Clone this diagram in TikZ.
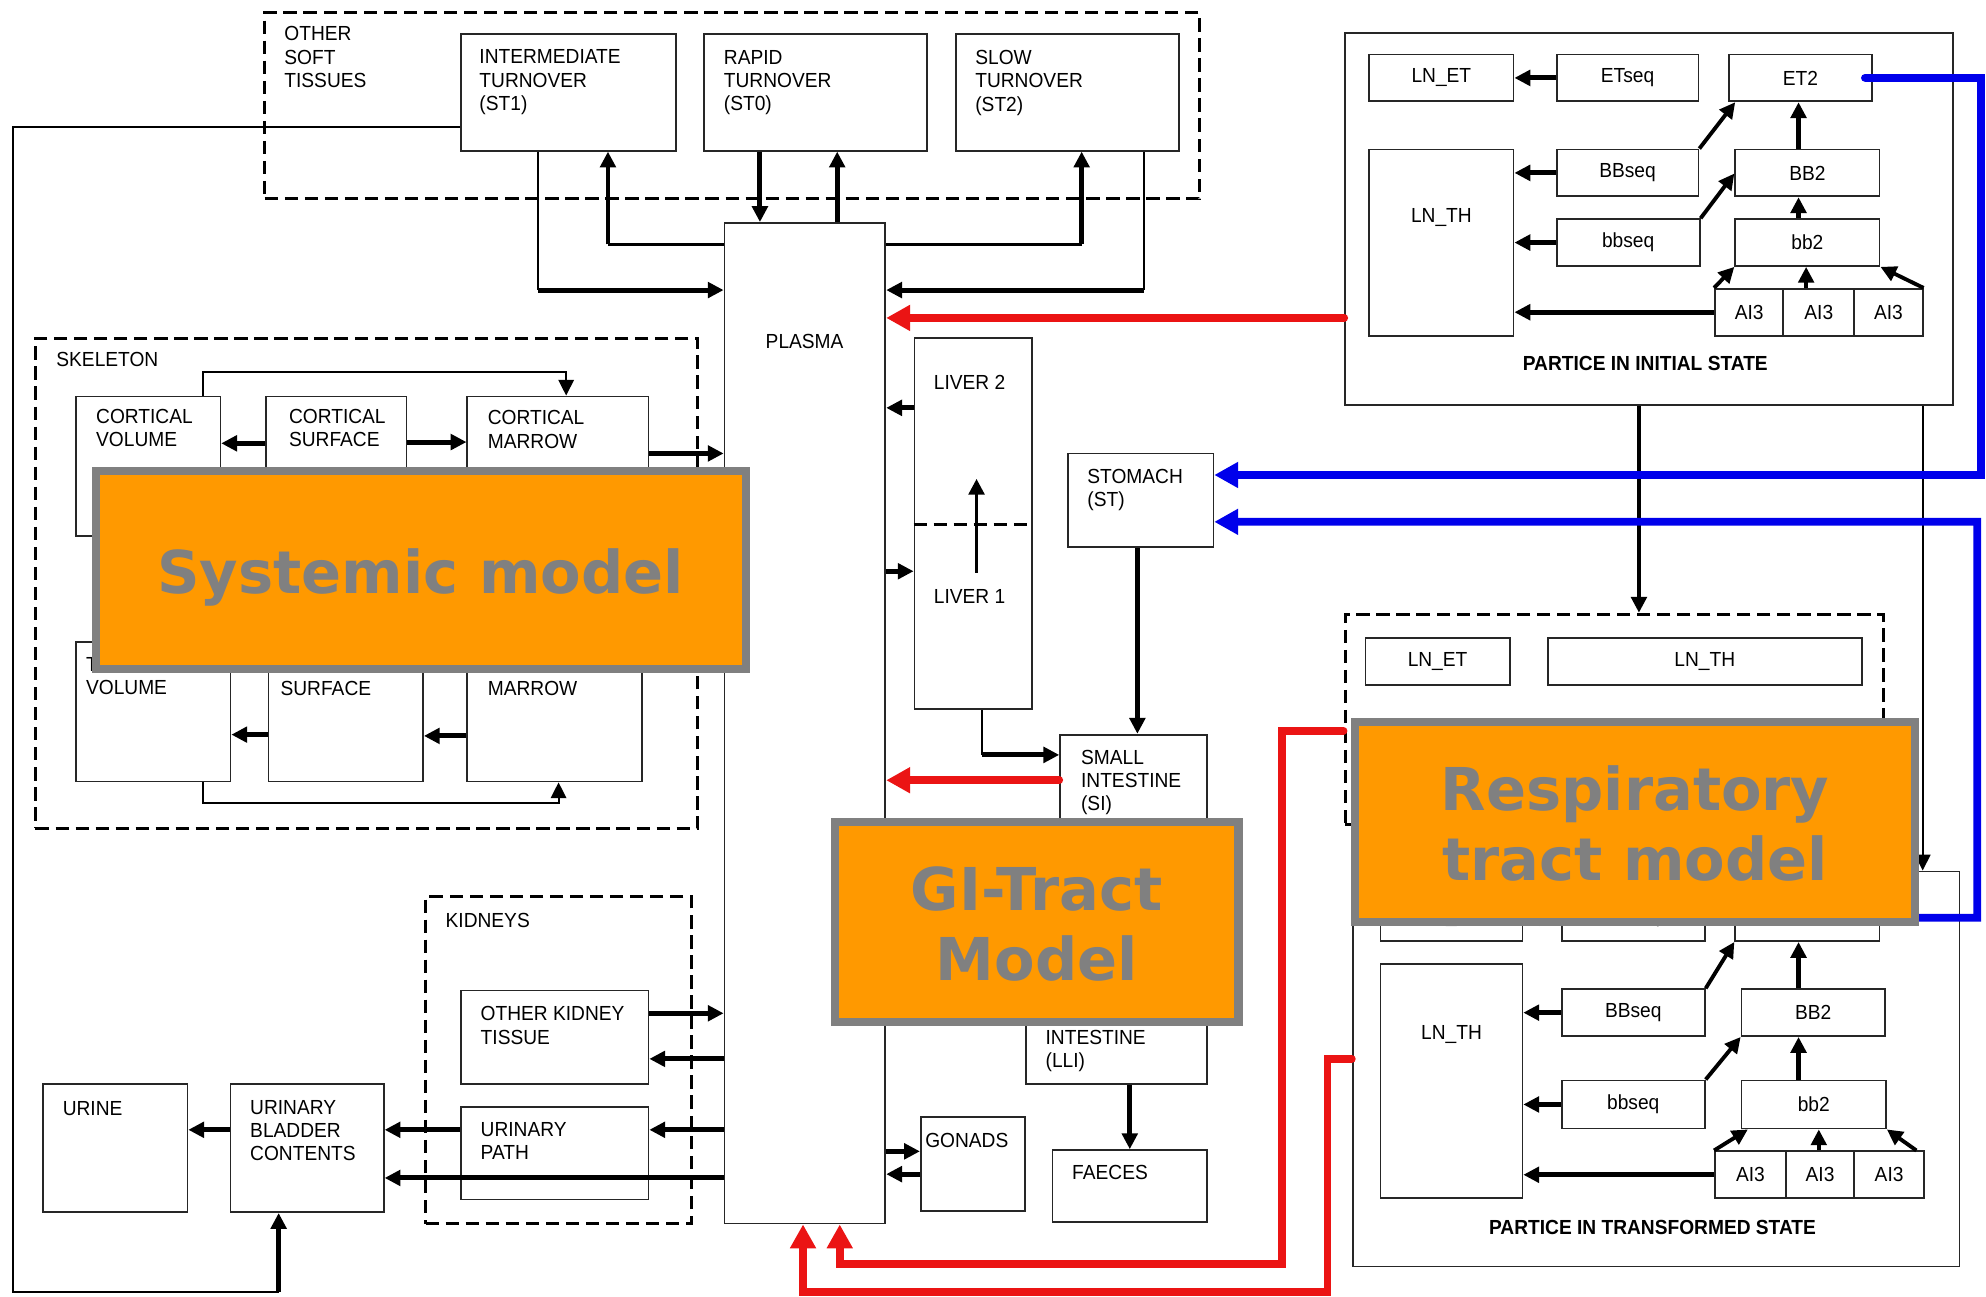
\documentclass[tikz,border=0pt]{standalone}
\usepackage{fontspec}
\setmainfont{Liberation Sans}
\newfontfamily\lblf[FakeStretch=0.94]{Liberation Sans}
\newfontfamily\orgf{DejaVu Sans}
\usetikzlibrary{arrows.meta,fit}
\definecolor{myorange}{RGB}{255,153,0}
\definecolor{mygray}{RGB}{128,128,128}
\definecolor{myred}{RGB}{235,20,20}
\definecolor{myblue}{RGB}{0,0,235}
\begin{document}
\begin{tikzpicture}[x=0.012666cm,y=-0.012666cm,
  box/.style={draw=black!85,line width=0.5pt,inner sep=0pt},
  dbox/.style={draw=black,line width=0.9pt,dash pattern=on 3.8pt off 1.9pt,inner sep=0pt},
  lbl/.style={font=\lblf\fontsize{5.8pt}{6.66pt}\selectfont,inner sep=0pt,anchor=north west,align=left},
  clbl/.style={font=\lblf\fontsize{5.8pt}{6.66pt}\selectfont,inner sep=0pt},
  blbl/.style={font=\lblf\bfseries\fontsize{5.8pt}{6.66pt}\selectfont,inner sep=0pt,anchor=base},
  thn/.style={line width=0.6pt},
  med/.style={line width=1.1pt},
  thk/.style={line width=1.4pt},
  ar/.style={-{Triangle[length=4.5pt,width=4.4pt]}},
  bigar/.style={-{Triangle[length=6.8pt,width=7pt]}},
  redl/.style={draw=myred,line width=2.2pt,line cap=round},
  bluel/.style={draw=myblue,line width=2.2pt,line cap=round},
  orgbox/.style={fill=myorange,draw=mygray,line width=2.3pt,inner sep=0pt},
  orgtxt/.style={font=\orgf\bfseries\fontsize{16.8pt}{19.8pt}\selectfont,text=mygray,align=center,inner sep=0pt}
]
\fill[white] (0,0) rectangle (1568,1024);
\useasboundingbox (0,0) rectangle (1568,1024);

% ---------- other soft tissues ----------
\node[dbox,fit={(209,10) (947,157)}] (ost) {};
\node[box,fit={(364,27) (534,119)}] (st1) {};
\node[box,fit={(556,27) (732,119)}] (st0) {};
\node[box,fit={(755,27) (931,119)}] (st2) {};
\node[lbl] (tost) at (224,20.5) {OTHER\\SOFT\\TISSUES};
\node[lbl] (tst1) at (378,38.7) {INTERMEDIATE\\TURNOVER\\(ST1)};
\node[lbl] (tst0) at (571,38.9) {RAPID\\TURNOVER\\(ST0)};
\node[lbl] (tst2) at (769.5,38.9) {SLOW\\TURNOVER\\(ST2)};

% ---------- plasma ----------
\node[box,fit={(572,176) (699,966)}] (plasma) {};
\node[lbl] (tplasma) at (604,263) {PLASMA};

% ---------- skeleton ----------
\node[dbox,fit={(28,267) (551,654)}] (skel) {};
\node[lbl] (tskel) at (44,277.7) {SKELETON};
\node[box,fit={(60,313) (174,423)}] (cv) {};
\node[box,fit={(210,313) (321,440)}] (cs) {};
\node[box,fit={(369,313) (512,440)}] (cm) {};
\node[box,fit={(60,507) (182,617)}] (tv) {};
\node[box,fit={(212,500) (334,617)}] (ts) {};
\node[box,fit={(369,500) (507,617)}] (tm) {};
\node[lbl] (tcv) at (75.4,322.4) {CORTICAL\\VOLUME};
\node[lbl] (tcs) at (227.7,322.4) {CORTICAL\\SURFACE};
\node[lbl] (tcm) at (384.6,323.7) {CORTICAL\\MARROW};
\node[lbl] (ttv) at (67.4,518) {TRABECULAR\\VOLUME};
\node[lbl] (tts) at (221,537) {SURFACE};
\node[lbl] (ttm) at (384.6,537) {MARROW};

% ---------- liver, GI ----------
\node[box,fit={(722,267) (815,560)}] (liver) {};
\draw[dbox] (liver.west |- 0,414) -- (liver.east |- 0,414);
\node[lbl] (tliv2) at (736.8,296) {LIVER 2};
\node[lbl] (tliv1) at (736.8,465) {LIVER 1};
\node[box,fit={(843,358) (958,432)}] (stomach) {};
\node[lbl] (tstom) at (858,369.7) {STOMACH\\(ST)};
\node[box,fit={(837,580) (953,670)}] (si) {};
\node[lbl] (tsi) at (853,591.4) {SMALL\\INTESTINE\\(SI)};
\node[box,fit={(810,780) (953,856)}] (lli) {};
\node[lbl] (tlli) at (825,812.7) {INTESTINE\\(LLI)};
\node[box,fit={(831,908) (953,965)}] (faeces) {};
\node[lbl] (tfae) at (846,919.8) {FAECES};
\node[box,fit={(727,882) (809,956)}] (gonads) {};
\node[lbl] (tgon) at (730,894.3) {GONADS};

% ---------- kidneys, bladder ----------
\node[dbox,fit={(336,708) (546,966)}] (kid) {};
\node[lbl] (tkid) at (351.3,720.6) {KIDNEYS};
\node[box,fit={(364,782) (512,856)}] (okt) {};
\node[lbl] (tokt) at (379,794) {OTHER KIDNEY\\TISSUE};
\node[box,fit={(364,874) (512,947)}] (up) {};
\node[lbl] (tup) at (379,885.6) {URINARY\\PATH};
\node[box,fit={(182,856) (303,957)}] (ubc) {};
\node[lbl] (tubc) at (197,868) {URINARY\\BLADDER\\CONTENTS};
\node[box,fit={(34,856) (148,957)}] (urine) {};
\node[lbl] (turine) at (49,869) {URINE};

% ---------- respiratory: initial state ----------
\node[box,fit={(1062,26) (1542,320)}] (ris) {};
\node[box,fit={(1081,43) (1195,80)}] (lnet1) {};
\node[box,fit={(1229,43) (1341,80)}] (etseq1) {};
\node[box,fit={(1365,43) (1478,80)}] (et2a) {};
\node[box,fit={(1081,118) (1195,265)}] (lnth1) {};
\node[box,fit={(1229,118) (1341,155)}] (bbseq1) {};
\node[box,fit={(1370,118) (1484,155)}] (bb2a) {};
\node[box,fit={(1229,173) (1342,210)}] (bbsq1) {};
\node[box,fit={(1370,173) (1484,210)}] (bb2b) {};
\node[box,fit={(1354,228) (1408,265)}] (ai3a) {};
\node[box,fit={(1408,228) (1464,265)}] (ai3b) {};
\node[box,fit={(1464,228) (1518,265)}] (ai3c) {};
\node[clbl] (tlnet1) at (lnet1) {LN\_ET};
\node[clbl] (tetseq1) at (etseq1) {ETseq};
\node[clbl] (tet2a) at (et2a) {ET2};
\node[clbl] (tlnth1) at (1138,172) {LN\_TH};
\node[clbl] (tbbseq1) at (bbseq1) {BBseq};
\node[clbl] (tbb2a) at (bb2a) {BB2};
\node[clbl] (tbbsq1) at (bbsq1) {bbseq};
\node[clbl] (tbb2b) at (bb2b) {bb2};
\node[clbl] (tai3a) at (ai3a) {AI3};
\node[clbl] (tai3b) at (ai3b) {AI3};
\node[clbl] (tai3c) at (ai3c) {AI3};
\node[blbl] (tpis) at (1299,292.8) {PARTICE IN INITIAL STATE};

% ---------- respiratory: lymph nodes ----------
\node[dbox,fit={(1062,485) (1487,651)}] (lnd) {};
\node[box,fit={(1078,504) (1192,541)}] (lnet2) {};
\node[box,fit={(1222,504) (1470,541)}] (lnth2) {};
\node[clbl] (tlnet2) at (lnet2) {LN\_ET};
\node[clbl] (tlnth2) at (lnth2) {LN\_TH};

% ---------- respiratory: transformed state ----------
\node[box,fit={(1068,688) (1547,1000)}] (rts) {};
\node[box,fit={(1090,706) (1202,743)}] (lnet3) {};
\node[box,fit={(1233,706) (1346,743)}] (etseq3) {};
\node[box,fit={(1370,706) (1484,743)}] (et2c) {};
\node[box,fit={(1090,761) (1202,946)}] (lnth3) {};
\node[box,fit={(1233,781) (1346,818)}] (bbseq3) {};
\node[box,fit={(1375,781) (1488,818)}] (bb2c) {};
\node[box,fit={(1233,853) (1346,891)}] (bbsq3) {};
\node[box,fit={(1375,853) (1489,891)}] (bb2d) {};
\node[box,fit={(1354,909) (1410,946)}] (ai3d) {};
\node[box,fit={(1410,909) (1464,946)}] (ai3e) {};
\node[box,fit={(1464,909) (1519,946)}] (ai3f) {};
\node[clbl] (tlnet3) at (lnet3) {LN\_ET};
\node[clbl] (tetseq3) at (etseq3) {ETseq};
\node[clbl] (tet2c) at (et2c) {ET2};
\node[clbl] (tlnth3) at (1146,817) {LN\_TH};
\node[clbl] (tbbseq3) at (bbseq3) {BBseq};
\node[clbl] (tbb2c) at (bb2c) {BB2};
\node[clbl] (tbbsq3) at (bbsq3) {bbseq};
\node[clbl] (tbb2d) at (bb2d) {bb2};
\node[clbl] (tai3d) at (ai3d) {AI3};
\node[clbl] (tai3e) at (ai3e) {AI3};
\node[clbl] (tai3f) at (ai3f) {AI3};
\node[blbl] (tpts) at (1304.7,975) {PARTICE IN TRANSFORMED STATE};

% ---------- black connectors ----------
\draw[thn] (st1.south -| 425,0) -- (425,229);
\draw[thk,ar] (425,229) -- (plasma.west |- 0,229);
\draw[thn] (plasma.west |- 0,193) -- (480,193);
\draw[thk,ar] (480,193) -- (st1.south -| 480,0);
\draw[thk,ar] (st0.south -| 600,0) -- (plasma.north -| 600,0);
\draw[thk,ar] (plasma.north -| 661,0) -- (st0.south -| 661,0);
\draw[thn] (plasma.east |- 0,193) -- (854,193);
\draw[thk,ar] (854,193) -- (st2.south -| 854,0);
\draw[thn] (st2.south -| 903,0) -- (903,229);
\draw[thk,ar] (903,229) -- (plasma.east |- 0,229);

\draw[thn] (st1.west |- 0,100) -- (10,100) -- (10,1020) -- (220,1020);
\draw[thk,ar] (220,1020) -- (ubc.south -| 220,0);

\draw[thk,ar] (cs.west |- 0,350) -- (cv.east |- 0,350);
\draw[thk,ar] (cs.east |- 0,349) -- (cm.west |- 0,349);
\draw[thn,ar] (cv.north -| 160,0) -- (160,294) -- (447,294) -- (cm.north -| 447,0);
\draw[thk,ar] (cm.east |- 0,358) -- (plasma.west |- 0,358);
\draw[thk,ar] (ts.west |- 0,580) -- (tv.east |- 0,580);
\draw[thk,ar] (tm.west |- 0,581) -- (ts.east |- 0,581);
\draw[thn,ar] (tv.south -| 160,0) -- (160,634) -- (441,634) -- (tm.south -| 441,0);

\draw[thk,ar] (liver.west |- 0,322) -- (plasma.east |- 0,322);
\draw[thk,ar] (plasma.east |- 0,451) -- (liver.west |- 0,451);
\draw[med,ar] (771,452) -- (771,378);
\draw[thn] (liver.south -| 775,0) -- (775,596);
\draw[thk,ar] (775,596) -- (si.west |- 0,596);
\draw[thk,ar] (stomach.south -| 898,0) -- (si.north -| 898,0);
\draw[thk,ar] (lli.south -| 892,0) -- (faeces.north -| 892,0);
\draw[thk,ar] (plasma.east |- 0,909) -- (gonads.west |- 0,909);
\draw[thk,ar] (gonads.west |- 0,927) -- (plasma.east |- 0,927);

\draw[thk,ar] (okt.east |- 0,800) -- (plasma.west |- 0,800);
\draw[thk,ar] (plasma.west |- 0,836) -- (okt.east |- 0,836);
\draw[thk,ar] (plasma.west |- 0,892) -- (up.east |- 0,892);
\draw[thk,ar] (up.west |- 0,892) -- (ubc.east |- 0,892);
\draw[thk,ar] (plasma.west |- 0,930) -- (ubc.east |- 0,930);
\draw[thk,ar] (ubc.west |- 0,892) -- (urine.east |- 0,892);

\draw[thk,ar] (etseq1.west) -- (lnet1.east);
\draw[thk,ar] (bbseq1.west) -- (lnth1.east |- bbseq1.west);
\draw[thk,ar] (bbsq1.west) -- (lnth1.east |- bbsq1.west);
\draw[thk,ar] (ai3a.west) -- (lnth1.east |- ai3a.west);
\draw[med,ar] (bbseq1.north east) -- (et2a.south -| 1370,0);
\draw[med,ar] (bbsq1.north east) -- (bb2a.west |- 0,137);
\draw[thk,ar] (bb2a.north -| 1420,0) -- (et2a.south -| 1420,0);
\draw[thk,ar] (bb2b.north -| 1420,0) -- (bb2a.south -| 1420,0);
\draw[med,ar] (ai3a.north west) -- (bb2b.south west);
\draw[med,ar] (ai3b.north -| 1426,0) -- (bb2b.south -| 1426,0);
\draw[med,ar] (ai3c.north east) -- (bb2b.south east);

\draw[thk,ar] (etseq3.west) -- (lnet3.east);
\draw[thk,ar] (bbseq3.west) -- (lnth3.east |- bbseq3.west);
\draw[thk,ar] (bbsq3.west) -- (lnth3.east |- bbsq3.west);
\draw[thk,ar] (ai3d.west) -- (lnth3.east |- ai3d.west);
\draw[med,ar] (bbseq3.north east) -- (et2c.south west);
\draw[med,ar] (bbsq3.north east) -- (bb2c.south west);
\draw[thk,ar] (bb2c.north -| 1420,0) -- (et2c.south -| 1420,0);
\draw[thk,ar] (bb2d.north -| 1420,0) -- (bb2c.south -| 1420,0);
\draw[med,ar] (ai3d.north west) -- (bb2d.south -| 1380,0);
\draw[med,ar] (ai3e.north -| 1436,0) -- (bb2d.south -| 1436,0);
\draw[med,ar] (ai3f.north -| 1513,0) -- (bb2d.south east);

\draw[med,ar] (ris.south -| 1294,0) -- (lnd.north -| 1294,0);
\draw[thn,ar] (ris.south -| 1518,0) -- (rts.north -| 1518,0);

% ---------- blue connectors ----------
\draw[bluel,bigar] ([xshift=-0.08cm]et2a.east) -- (1564,61.5) -- (1564,375) -- (stomach.east |- 0,375);
\draw[bluel,bigar] (et2c.east) -- (1561,724.5) -- (1561,412) -- (stomach.east |- 0,412);

% ---------- red connectors ----------
\draw[redl,bigar] (ris.west |- 0,251) -- (plasma.east |- 0,251);
\draw[redl,bigar] (si.west |- 0,616) -- (plasma.east |- 0,616);
\draw[redl,bigar] (lnd.west |- 0,577) -- (1012,577) -- (1012,998) -- (663,998) -- (plasma.south -| 663,0);
\draw[redl,bigar] (rts.west |- 0,836) -- (1048,836) -- (1048,1020) -- (634,1020) -- (plasma.south -| 634,0);

% ---------- orange overlay labels ----------
\node[orgbox,fit={(75.8,371.7) (588.8,528.3)}] (sysm) {};
\node[orgtxt] (tsys) at (332,456) {Systemic model};
\node[orgbox,fit={(658.9,649.2) (977.8,806.6)}] (gim) {};
\node[orgtxt,anchor=north] (tgi) at (818.5,684) {GI-Tract\\Model};
\node[orgbox,fit={(1069.8,570.2) (1511.8,727.6)}] (rtm) {};
\node[orgtxt,anchor=north] (trt) at (1291,604) {Respiratory\\tract model};
\end{tikzpicture}
\end{document}
